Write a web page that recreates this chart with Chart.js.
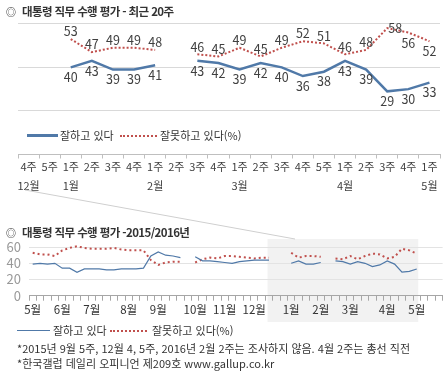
<!DOCTYPE html>
<html lang="ko">
<head>
<meta charset="utf-8">
<script src="https://cdn.jsdelivr.net/npm/chart.js@4.4.1/dist/chart.umd.min.js"></script>
<style>
  body { margin: 0; width: 446px; height: 384px; overflow: hidden; background: #fff; position: relative;
    font-family: "Noto Sans CJK KR", "Noto Sans", sans-serif; color: #333; }
  canvas { position: absolute; left: 0; }
  #top { top: 0; }
  #bottom { top: 186px; }
  .t { position: absolute; white-space: nowrap; }
  .title { left: 6px; font-size: 11.5px; font-weight: bold; line-height: 18px; letter-spacing: -0.6px; z-index: 2; }
  .title .mark { display: inline-block; width: 16px; font-size: 10px; font-weight: normal; color: #333; letter-spacing: 0; }
  .lg { font-size: 11px; line-height: 16px; }
  .swatch { position: absolute; }
  .foot { left: 17px; font-size: 11px; line-height: 15px; }
</style>
</head>
<body>
<div class="t title" style="top:2px"><span class="mark">◎</span>대통령 직무 수행 평가 - 최근 20주</div>
<canvas id="top" width="446" height="196"></canvas>

<div class="swatch" style="left:27px;top:134px;width:31px;border-top:3px solid #5079a8"></div>
<div class="t lg" style="left:60px;top:127px">잘하고 있다</div>
<div class="swatch" style="left:120px;top:135px;width:37px;border-top:2px dotted #c0504d"></div>
<div class="t lg" style="left:160px;top:127px">잘못하고 있다(%)</div>

<canvas id="bottom" width="446" height="142"></canvas>
<div class="t title" style="top:223px"><span class="mark">◎</span>대통령 직무 수행 평가 -2015/2016년</div>

<div class="swatch" style="left:17px;top:330px;width:33px;border-top:1px solid #5079a8"></div>
<div class="t lg" style="left:53px;top:322px">잘하고 있다</div>
<div class="swatch" style="left:110px;top:330px;width:37px;border-top:2px dotted #c0504d"></div>
<div class="t lg" style="left:152px;top:322px">잘못하고 있다(%)</div>

<div class="t foot" style="top:341px">*2015년 9월 5주, 12월 4, 5주, 2016년 2월 2주는 조사하지 않음. 4월 2주는 총선 직전</div>
<div class="t foot" style="top:356px">*한국갤럽 데일리 오피니언 제209호 www.gallup.co.kr</div>

<script>
// recent 20 weeks (2015 Dec 4th week .. 2016 May 1st week)
const weekLabels = [['4주', '12월'], '5주', ['1주', '1월'], '2주', '3주', '4주', ['1주', '2월'], '2주', '3주', '4주',
  ['1주', '3월'], '2주', '3주', '4주', '5주', ['1주', '4월'], '2주', '3주', '4주', ['1주', '5월']];
const approveRecent = [null, null, 40, 43, 39, 39, 41, null, 43, 42, 39, 42, 40, 36, 38, 43, 39, 29, 30, 33];
const disapproveRecent = [null, null, 53, 47, 49, 49, 48, null, 46, 45, 49, 45, 49, 52, 51, 46, 48, 58, 56, 52];

// 2015 May 1st week .. Dec 3rd week
const monthNames = ['5월', '6월', '7월', '8월', '9월', '10월', '11월', '12월', '1월', '2월', '3월', '4월', '5월'];
const weeksInMonth = [4, 4, 5, 4, 5, 4, 4, 5, 4, 4, 5, 4, 1];
const approve2015 = [39, 40, 39, 40, 34, 34, 29, 33, 33, 33, 32, 32, 33, 33, 33, 34, 49,
  54, 50, 49, 47, null, 48, 43, 43, 42, 41, 40, 42, 43, 44, 44, 44];
const disapprove2015 = [53, 51, 51, 49, 56, 59, 61, 59, 58, 58, 58, 59, 57, 56, 56, 56, 44,
  38, 41, 42, 42, null, 41, 45, 47, 46, 49, 49, 48, 47, 46, 47, 47];
const yTicks = [0, 20, 40, 60];

const BLUE = '#5079a8';
const RED = '#c0504d';
const FONT = '"Noto Sans CJK KR", "Noto Sans", sans-serif';

// where the red labels sit when they would collide
const badLabelPos = { 17: 'right', 18: 'below', 19: 'below' };

const valueLabels = {
  id: 'valueLabels',
  afterDatasetsDraw(chart) {
    const ctx = chart.ctx;
    ctx.save();
    ctx.font = '12.5px ' + FONT;
    ctx.fillStyle = '#404040';
    ctx.textAlign = 'center';
    ctx.textBaseline = 'middle';
    chart.data.datasets.forEach((ds, di) => {
      chart.getDatasetMeta(di).data.forEach((pt, i) => {
        const v = ds.data[i];
        if (v == null) return;
        let dx = 0, dy = di === 0 ? 10 : -7.5;
        const where = di === 1 ? badLabelPos[i] : null;
        if (where === 'right') { dx = 8; dy = 0; }
        if (where === 'below') dy = 10.5;
        ctx.fillText(v, pt.x + dx, pt.y + dy);
      });
    });
    ctx.restore();
  }
};

new Chart(document.getElementById('top'), {
  type: 'line',
  data: {
    labels: weekLabels,
    datasets: [
      { data: approveRecent, borderColor: BLUE, borderWidth: 2.5, pointRadius: 0, tension: 0 },
      { data: disapproveRecent, borderColor: RED, borderWidth: 2, borderDash: [2, 2], pointRadius: 0, tension: 0 }
    ]
  },
  options: {
    responsive: false,
    animation: false,
    devicePixelRatio: 1,
    layout: { padding: { left: 18, right: 6, top: 2, bottom: 0 } },
    plugins: { legend: { display: false }, tooltip: { enabled: false } },
    scales: {
      x: {
        offset: true,
        afterFit: s => { s.height = 196 - 154.5; },
        border: { color: '#bfbfbf' },
        grid: { offset: true, drawOnChartArea: false, tickLength: 4, color: '#bfbfbf' },
        ticks: { autoSkip: false, maxRotation: 0, padding: -1, color: '#404040',
          font: { family: FONT, size: 11, lineHeight: 1.7 } }
      },
      y: {
        min: 0, max: 70,
        afterFit: s => { s.width = 0; },
        afterBuildTicks: s => { s.ticks = [20, 40, 60].map(v => ({ value: v })); },
        border: { display: false },
        grid: { drawTicks: false, color: '#d9d9d9' },
        ticks: { display: false }
      }
    }
  },
  plugins: [valueLabels]
});

const lowerLabels = monthNames.flatMap((m, i) => [m, ...Array(weeksInMonth[i] - 1).fill('')]).concat(['', '', '']);
const lowerApprove = approve2015.concat(approveRecent, [null, null, null]);
const lowerDisapprove = disapprove2015.concat(disapproveRecent, [null, null, null]);

// grey box around the recent 20 weeks and the pointer line to the upper chart
const zoomBox = {
  id: 'zoomBox',
  beforeDraw(chart) {
    const ctx = chart.ctx;
    const x = chart.scales.x;
    const left = x.getPixelForValue(31.8);
    const right = x.getPixelForValue(52.2);
    ctx.save();
    ctx.fillStyle = '#f2f2f2';
    ctx.fillRect(left, chart.chartArea.top, right - left, 136 - chart.chartArea.top);
    ctx.strokeStyle = '#cfcfcf';
    ctx.lineWidth = 1;
    ctx.beginPath();
    ctx.moveTo(25, 4);
    ctx.lineTo(295, chart.chartArea.top);
    ctx.stroke();
    ctx.restore();
  }
};

new Chart(document.getElementById('bottom'), {
  type: 'line',
  data: {
    labels: lowerLabels,
    datasets: [
      { data: lowerApprove, borderColor: BLUE, borderWidth: 1.2, pointRadius: 0, tension: 0 },
      { data: lowerDisapprove, borderColor: RED, borderWidth: 2, borderDash: [2, 3], pointRadius: 0, tension: 0 }
    ]
  },
  options: {
    responsive: false,
    animation: false,
    devicePixelRatio: 1,
    layout: { padding: { left: 0, right: 3.4, top: 53, bottom: 0 } },
    plugins: { legend: { display: false }, tooltip: { enabled: false } },
    scales: {
      x: {
        offset: true,
        afterFit: s => { s.height = 142 - 109.7; },
        border: { color: '#a6a6a6' },
        grid: { offset: true, drawOnChartArea: false, tickLength: 5, color: '#a6a6a6' },
        ticks: { autoSkip: false, maxRotation: 0, padding: 2, color: '#333',
          font: { family: FONT, size: 11.5 } }
      },
      y: {
        min: 0, max: 70,
        afterFit: s => { s.width = 29; },
        afterBuildTicks: s => { s.ticks = yTicks.map(v => ({ value: v })); },
        border: { display: false },
        grid: { drawTicks: false, color: c => (c.tick && c.tick.value === 0 ? 'rgba(0,0,0,0)' : '#e3e3e3') },
        ticks: { padding: 8, color: '#999', font: { family: FONT, size: 13 } }
      }
    }
  },
  plugins: [zoomBox]
});
</script>
</body>
</html>
